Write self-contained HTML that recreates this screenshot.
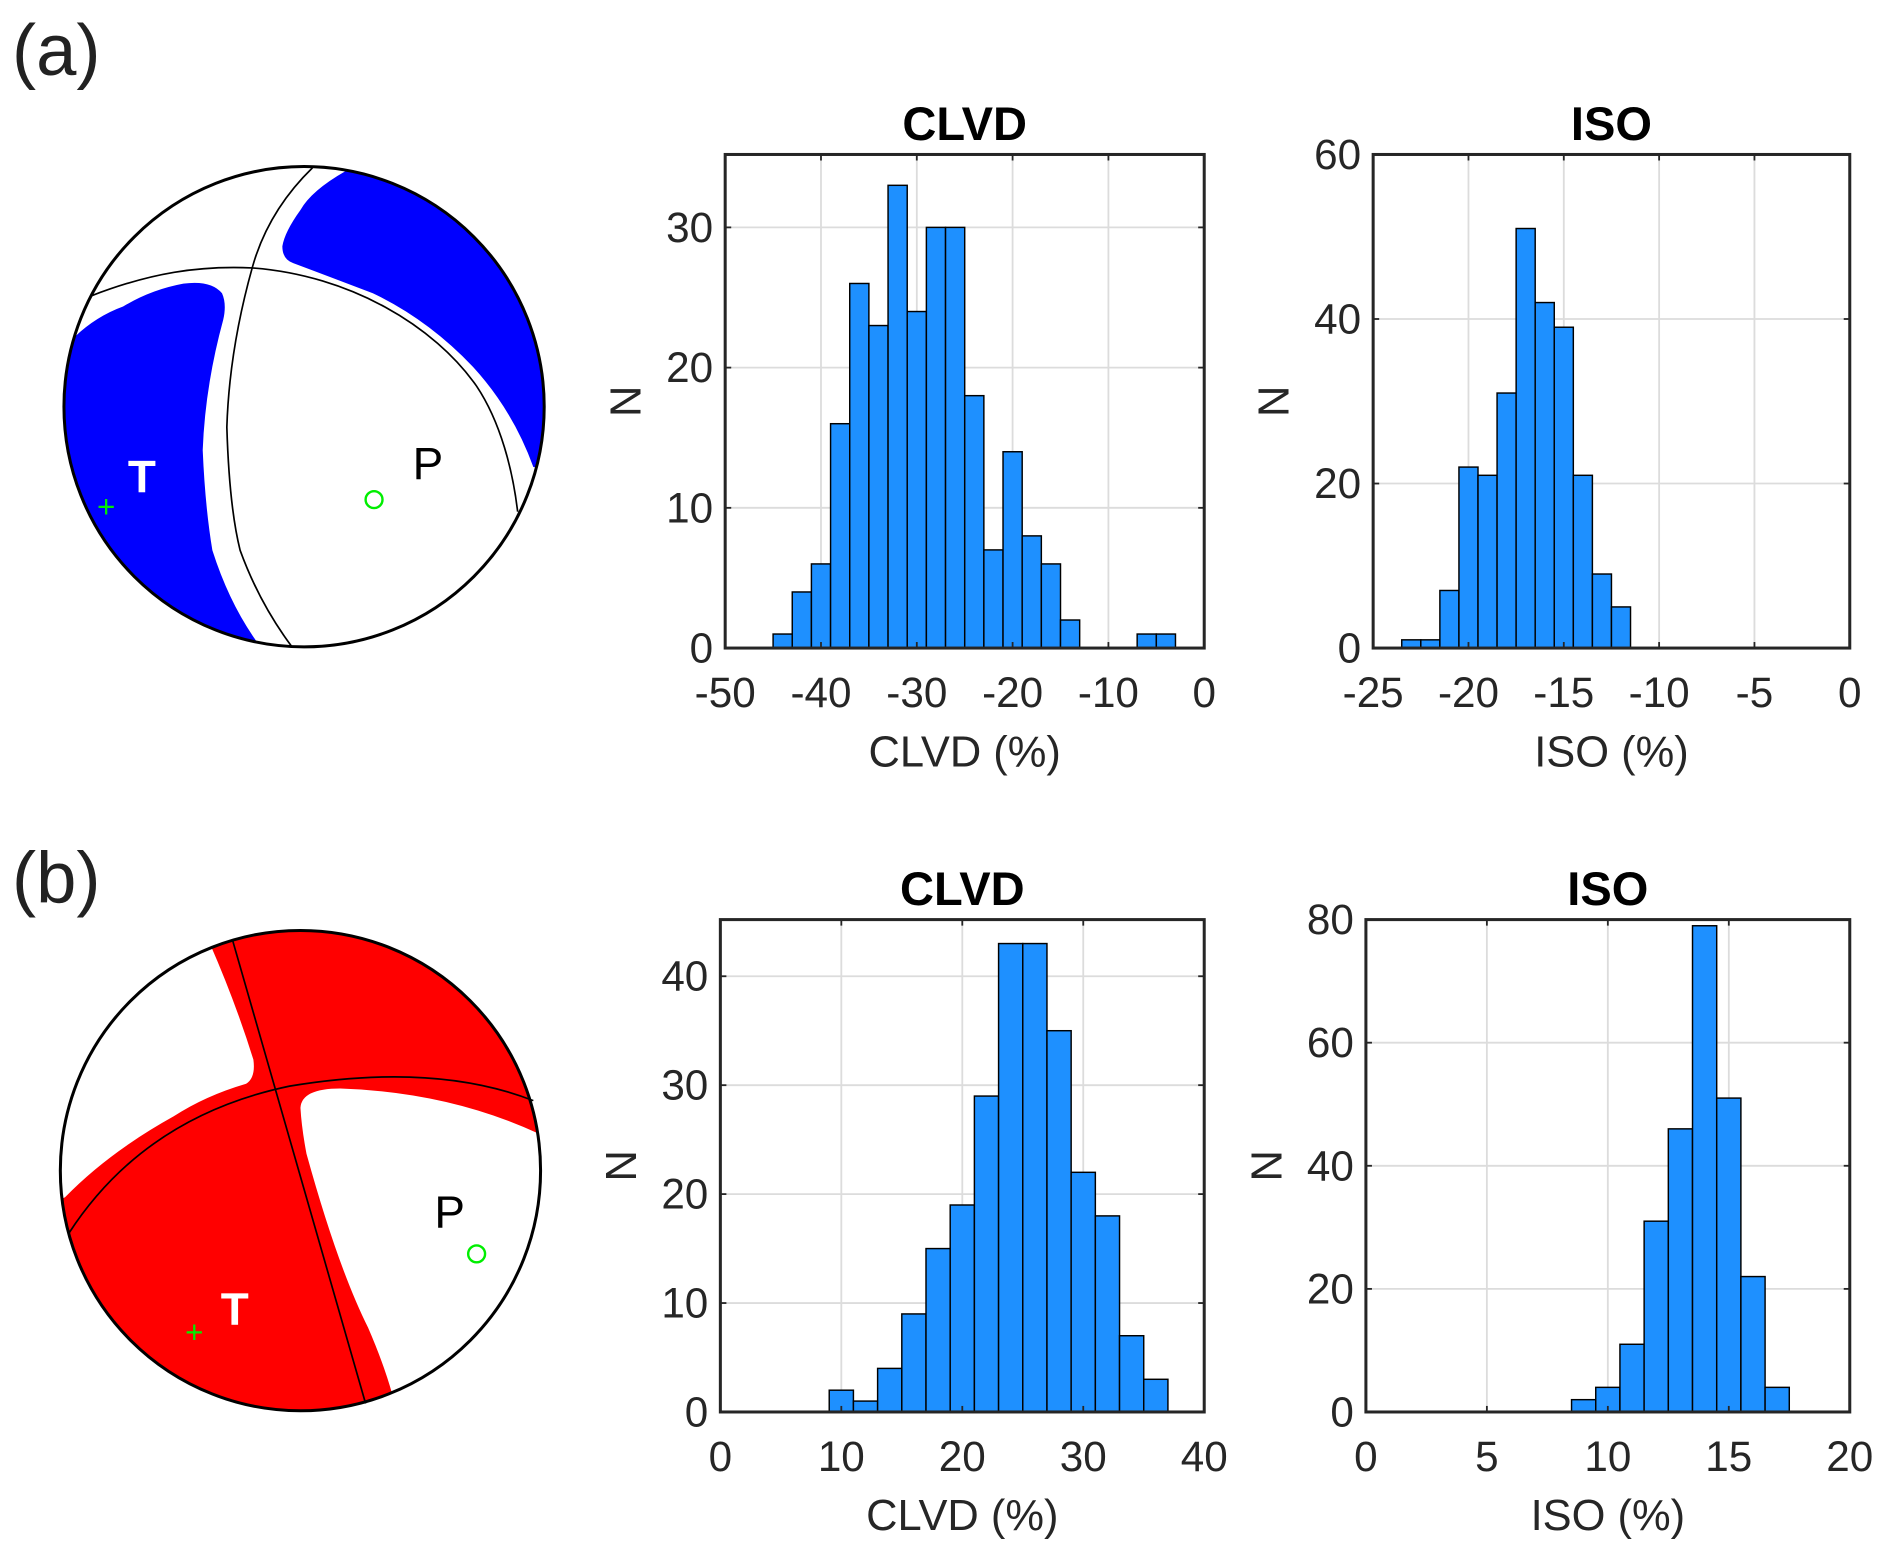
<!DOCTYPE html>
<html><head><meta charset="utf-8"><style>
html,body{margin:0;padding:0;background:#fff;}
svg{display:block;font-family:"Liberation Sans",Arial,sans-serif;}
</style></head><body>
<svg id="fig" width="1892" height="1558" viewBox="0 0 1568 1291" preserveAspectRatio="none" xmlns="http://www.w3.org/2000/svg">
<defs>
<clipPath id="ca"><circle cx="252" cy="337" r="199"/></clipPath>
<clipPath id="cb"><circle cx="249" cy="970" r="199"/></clipPath>
</defs>
<text x="10" y="62" font-size="60" fill="#222">(a)</text>
<text x="10" y="748" font-size="60" fill="#222">(b)</text>

<g>
<circle cx="252" cy="337" r="199" fill="#fff"/>
<g clip-path="url(#ca)">
<path fill="#0000ff" d="M40 300 L62 279 Q80 262 102 254 Q125 240 152 235 Q175 232 184 243 Q188 252 185 265 Q170 320 168 373 Q170 420 176 456 Q190 500 213 532 L40 560 Z"/>
<path fill="#0000ff" d="M286 142 Q258 158 249 174 Q236 192 234 204 Q234 215 243 218 Q275 230 309 243 Q355 265 392 304 Q425 340 442 387 L470 390 L470 130 Z"/>
</g>
<path d="M76 245 C125 226 165 220 209 222 C290 228 360 270 395 320 C415 350 425 390 429 424" fill="none" stroke="#000" stroke-width="1.4"/>
<path d="M259 139 Q222 175 209 222 Q190 290 188 354 Q190 420 199 456 Q215 500 242 536" fill="none" stroke="#000" stroke-width="1.4"/>
<circle cx="252" cy="337" r="199" fill="none" stroke="#000" stroke-width="2.5"/>
<text x="106" y="408" font-size="38" font-weight="bold" fill="#fff">T</text>
<text x="88" y="422" font-size="26" fill="#00ee00" text-anchor="middle" dominant-baseline="middle">+</text>
<circle cx="310" cy="414" r="7" fill="none" stroke="#00ee00" stroke-width="2"/>
<text x="342" y="397" font-size="38" fill="#000">P</text>
</g>

<g>
<circle cx="249" cy="970" r="199" fill="#ff0000"/>
<g clip-path="url(#cb)">
<path fill="#fff" d="M174 782 Q195 830 210 878 Q212 893 204 898 Q170 908 144 925 Q90 955 54 992 L40 1000 L40 770 Z"/>
<path fill="#fff" d="M460 946 Q380 905 282 902 Q250 902 249 918 Q250 935 254 956 Q280 1050 305 1100 Q318 1130 325 1155 L460 1170 Z"/>
</g>
<path d="M193 780 L303 1163" fill="none" stroke="#000" stroke-width="1.4"/>
<path d="M57 1022 Q120 925 240 900 Q360 880 442 912" fill="none" stroke="#000" stroke-width="1.4"/>
<circle cx="249" cy="970" r="199" fill="none" stroke="#000" stroke-width="2.5"/>
<text x="183" y="1098" font-size="38" font-weight="bold" fill="#fff">T</text>
<text x="161" y="1106" font-size="26" fill="#00ee00" text-anchor="middle" dominant-baseline="middle">+</text>
<circle cx="395" cy="1039" r="7" fill="none" stroke="#00ee00" stroke-width="2"/>
<text x="360" y="1017" font-size="38" fill="#000">P</text>
</g>
<g id="charts"></g>
</svg>
<script>
// Panel (a) CLVD
const aClvdEdgeStart = -45, aClvdBinWidth = 2;
const aClvdCounts = [1,4,6,16,26,23,33,24,30,30,18,7,14,8,6,2,0,0,0,1,1];
const aClvdXTicks = [-50,-40,-30,-20,-10,0];
const aClvdYTicks = [0,10,20,30];
// Panel (a) ISO
const aIsoEdgeStart = -23.5, aIsoBinWidth = 1;
const aIsoCounts = [1,1,7,22,21,31,51,42,39,21,9,5];
const aIsoXTicks = [-25,-20,-15,-10,-5,0];
const aIsoYTicks = [0,20,40,60];
// Panel (b) CLVD
const bClvdEdgeStart = 9, bClvdBinWidth = 2;
const bClvdCounts = [2,1,4,9,15,19,29,43,43,35,22,18,7,3];
const bClvdXTicks = [0,10,20,30,40];
const bClvdYTicks = [0,10,20,30,40];
// Panel (b) ISO
const bIsoEdgeStart = 8.5, bIsoBinWidth = 1;
const bIsoCounts = [2,4,11,31,46,79,51,22,4];
const bIsoXTicks = [0,5,10,15,20];
const bIsoYTicks = [0,20,40,60,80];

const NS = "http://www.w3.org/2000/svg";
const root = document.getElementById('charts');
function mk(tag, attrs, parent){
  const e = document.createElementNS(NS, tag);
  for (const k in attrs) e.setAttribute(k, attrs[k]);
  parent.appendChild(e); return e;
}
function chart(id, box, xmin, xmax, ymax, edgeStart, bw, counts, xt, yt, title, xlabel){
  const g = mk('g', {}, root);
  
  
  const [L,T,R,B] = box;
  const sx = v => L + (v - xmin) / (xmax - xmin) * (R - L);
  const sy = v => B - v / ymax * (B - T);
  xt.forEach(v => { if (v > xmin && v < xmax) mk('line', {x1:sx(v),x2:sx(v),y1:T,y2:B,stroke:'#dcdcdc','stroke-width':1.5}, g); });
  yt.forEach(v => { if (v > 0 && v < ymax) mk('line', {x1:L,x2:R,y1:sy(v),y2:sy(v),stroke:'#dcdcdc','stroke-width':1.5}, g); });
  counts.forEach((c, i) => {
    if (c <= 0) return;
    const x0 = sx(edgeStart + i * bw), x1 = sx(edgeStart + (i + 1) * bw);
    const r = mk('rect', {x:x0, y:sy(c), width:x1 - x0, height:B - sy(c), fill:'#1e90ff', stroke:'#000', 'stroke-width':1.2}, g);
    
    
  });
  mk('rect', {x:L, y:T, width:R-L, height:B-T, fill:'none', stroke:'#262626', 'stroke-width':2.5}, g);
  xt.forEach(v => {
    mk('line', {x1:sx(v),x2:sx(v),y1:B,y2:B-5,stroke:'#262626','stroke-width':1.5}, g);
    mk('line', {x1:sx(v),x2:sx(v),y1:T,y2:T+5,stroke:'#262626','stroke-width':1.5}, g);
    const t = mk('text', {x:sx(v), y:B+49, 'font-size':35, fill:'#262626', 'text-anchor':'middle'}, g);
    t.textContent = v;
    
    
  });
  yt.forEach(v => {
    mk('line', {x1:L,x2:L+5,y1:sy(v),y2:sy(v),stroke:'#262626','stroke-width':1.5}, g);
    mk('line', {x1:R,x2:R-5,y1:sy(v),y2:sy(v),stroke:'#262626','stroke-width':1.5}, g);
    const t = mk('text', {x:L-10, y:sy(v)+12, 'font-size':35, fill:'#262626', 'text-anchor':'end'}, g);
    t.textContent = v;
    
    
  });
  const tt = mk('text', {x:(L+R)/2, y:T-12, 'font-size':39, 'font-weight':'bold', fill:'#000', 'text-anchor':'middle'}, g);
  tt.textContent = title;
  
  
  const xl = mk('text', {x:(L+R)/2, y:B+98, 'font-size':36, fill:'#262626', 'text-anchor':'middle'}, g);
  xl.textContent = xlabel;
  
  
  const yl = mk('text', {x:0, y:0, 'font-size':36, fill:'#262626', 'text-anchor':'middle', transform:`translate(${L-70},${(T+B)/2}) rotate(-90)`}, g);
  yl.textContent = 'N';
  
  
}
chart('histogram-a-clvd', [601,128,998,537], -50, 0, 35.2, aClvdEdgeStart, aClvdBinWidth, aClvdCounts, aClvdXTicks, aClvdYTicks, 'CLVD', 'CLVD (%)');
chart('histogram-a-iso', [1138,128,1533,537], -25, 0, 60, aIsoEdgeStart, aIsoBinWidth, aIsoCounts, aIsoXTicks, aIsoYTicks, 'ISO', 'ISO (%)');
chart('histogram-b-clvd', [597,762,998,1170], 0, 40, 45.2, bClvdEdgeStart, bClvdBinWidth, bClvdCounts, bClvdXTicks, bClvdYTicks, 'CLVD', 'CLVD (%)');
chart('histogram-b-iso', [1132,762,1533,1170], 0, 20, 80, bIsoEdgeStart, bIsoBinWidth, bIsoCounts, bIsoXTicks, bIsoYTicks, 'ISO', 'ISO (%)');
</script>
</body></html>
